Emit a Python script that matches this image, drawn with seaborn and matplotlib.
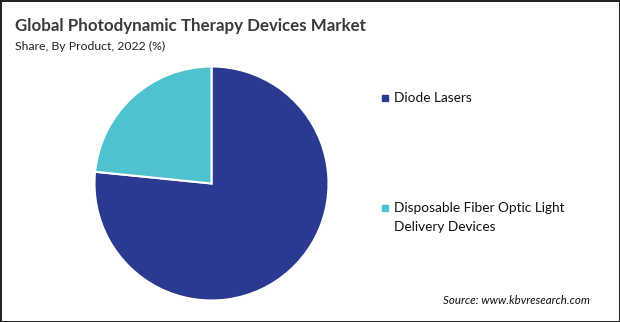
import matplotlib
matplotlib.use("Agg")
import matplotlib.pyplot as plt
from matplotlib.lines import Line2D
import seaborn as sns

# Data
products = ["Diode Lasers", "Disposable Fiber Optic Light\nDelivery Devices"]
shares = [76.6, 23.4]
colors = ["#2B3990", "#4EC3CF"]

title = "Global Photodynamic Therapy Devices Market"
subtitle = "Share, By Product, 2022 (%)"
source = "Source: www.kbvresearch.com"

sns.set_theme(style="white")
plt.rcParams['font.family'] = ['Lato', 'DejaVu Sans']

W, H = 620, 322
fig = plt.figure(figsize=(W / 100, H / 100), dpi=100)
fig.patch.set_facecolor("white")
fig.patch.set_edgecolor("#222222")
fig.patch.set_linewidth(2)

cx, cy, r = 211.5, 183.5, 117
ax = fig.add_axes([(cx - r) / W, (H - cy - r) / H, 2 * r / W, 2 * r / H])
ax.pie(shares, colors=colors, startangle=90, counterclock=False,
       wedgeprops=dict(edgecolor="white", linewidth=1.5))
ax.set_xlim(-1, 1)
ax.set_ylim(-1, 1)
ax.set_aspect("equal")
ax.axis("off")

def fy(y):
    return 1 - y / H

fig.text(15 / W, fy(31), title, fontsize=12.2, fontweight="bold", color="#3a3a3a",
         ha="left", va="baseline")
fig.text(15 / W, fy(50.5), subtitle, fontsize=8.8, color="#222222",
         ha="left", va="baseline")

# Legend (manual)
leg_y = [97.7, 208.3]
base_y = [101.7, 212.3]
for lab, col, my, by in zip(products, colors, leg_y, base_y):
    fig.add_artist(Line2D([385 / W], [fy(my)], marker="s", markersize=4.2,
                          color=col, linestyle="none", transform=fig.transFigure))
    lines = lab.split("\n")
    for i, ln in enumerate(lines):
        fig.text(393.5 / W, fy(by + 19 * i), ln, fontsize=9.8, color="#111111",
                 ha="left", va="baseline")

fig.text(590 / W, fy(304), source, fontsize=8.3, style="italic", color="#111111",
         ha="right", va="baseline")

fig.savefig("out.png", dpi=100, facecolor=fig.get_facecolor(), edgecolor=fig.get_edgecolor())
